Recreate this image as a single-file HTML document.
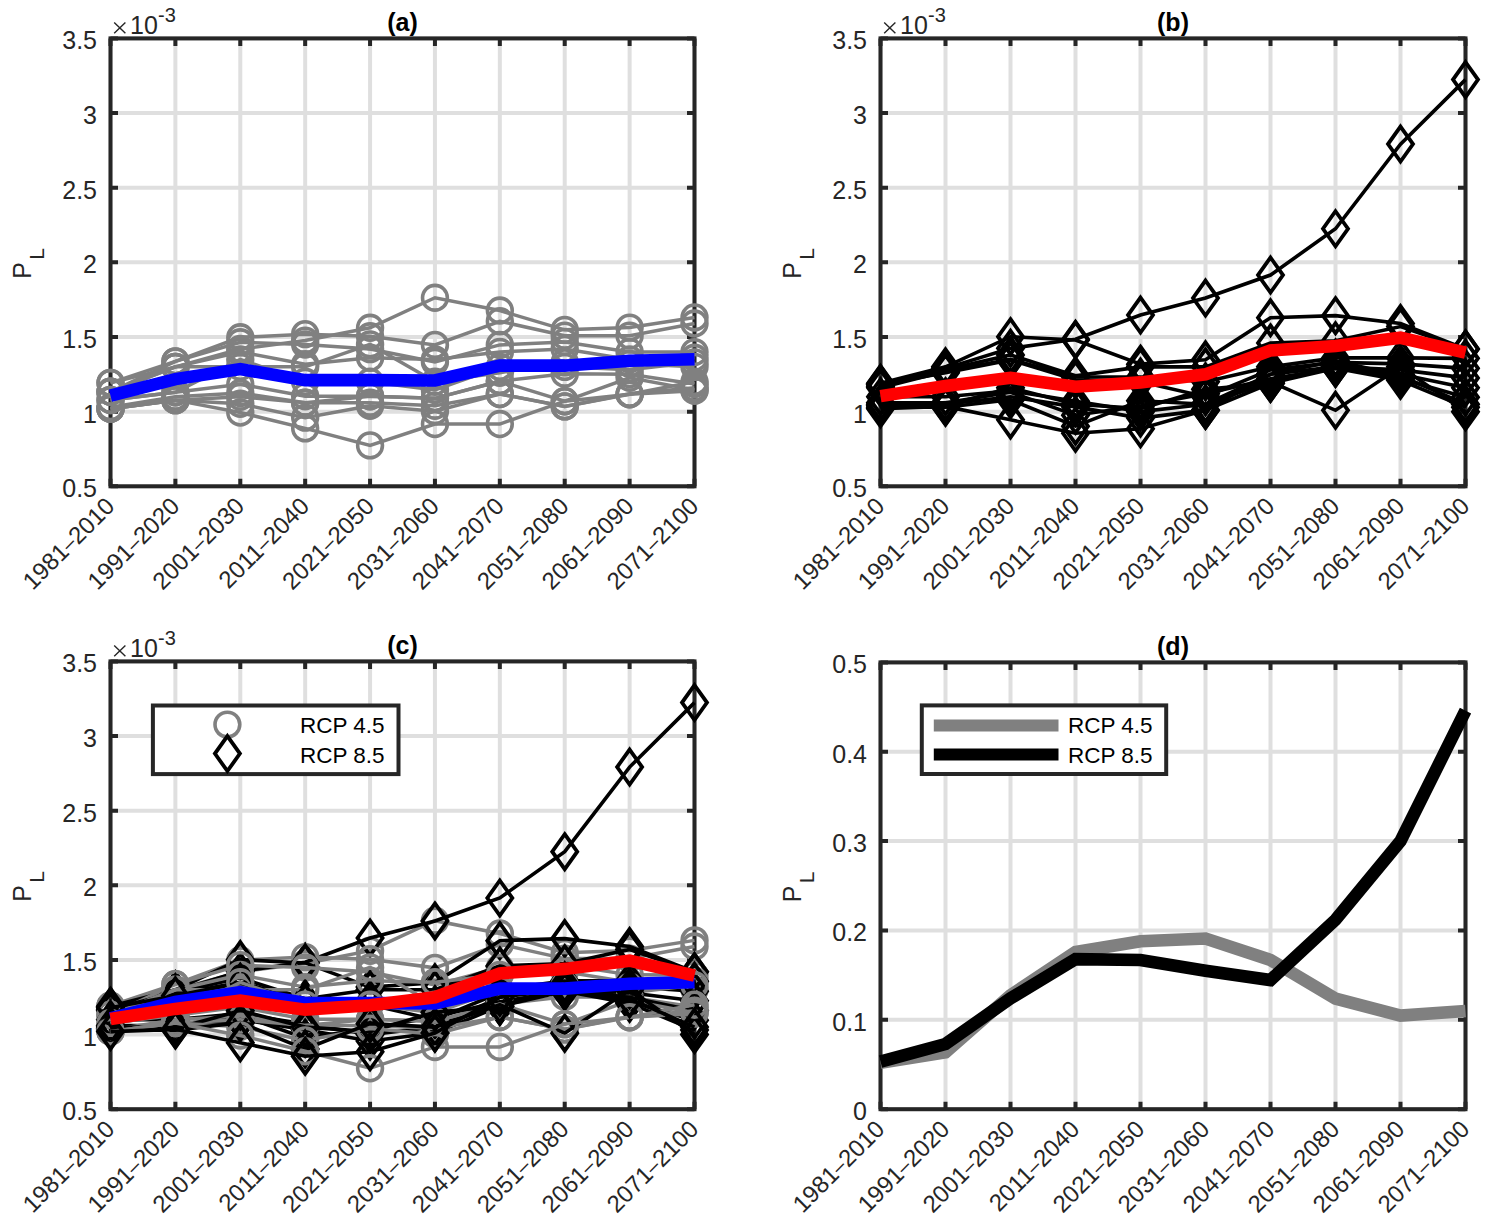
<!DOCTYPE html><html><head><meta charset="utf-8"><style>html,body{margin:0;padding:0;background:#fff;}svg{display:block;} text{font-family:"Liberation Sans", sans-serif;}</style></head><body>
<svg width="1496" height="1228" viewBox="0 0 1496 1228">
<rect width="1496" height="1228" fill="#fff"/>
<path d="M110.5 38.4V486.3M175.39 38.4V486.3M240.28 38.4V486.3M305.17 38.4V486.3M370.06 38.4V486.3M434.94 38.4V486.3M499.83 38.4V486.3M564.72 38.4V486.3M629.61 38.4V486.3M694.5 38.4V486.3M110.5 486.3H694.5M110.5 411.65H694.5M110.5 337H694.5M110.5 262.35H694.5M110.5 187.7H694.5M110.5 113.05H694.5M110.5 38.4H694.5" stroke="#262626" stroke-opacity="0.15" stroke-width="4" fill="none"/>
<path d="M110.5 38.4V45.9M110.5 486.3V478.8M175.39 38.4V45.9M175.39 486.3V478.8M240.28 38.4V45.9M240.28 486.3V478.8M305.17 38.4V45.9M305.17 486.3V478.8M370.06 38.4V45.9M370.06 486.3V478.8M434.94 38.4V45.9M434.94 486.3V478.8M499.83 38.4V45.9M499.83 486.3V478.8M564.72 38.4V45.9M564.72 486.3V478.8M629.61 38.4V45.9M629.61 486.3V478.8M694.5 38.4V45.9M694.5 486.3V478.8M110.5 486.3H118M694.5 486.3H687M110.5 411.65H118M694.5 411.65H687M110.5 337H118M694.5 337H687M110.5 262.35H118M694.5 262.35H687M110.5 187.7H118M694.5 187.7H687M110.5 113.05H118M694.5 113.05H687M110.5 38.4H118M694.5 38.4H687" stroke="#262626" stroke-width="4" fill="none"/>
<rect x="110.5" y="38.4" width="584" height="447.9" stroke="#262626" stroke-width="4" fill="none"/>
<path d="M880.5 38.4V486.3M945.5 38.4V486.3M1010.5 38.4V486.3M1075.5 38.4V486.3M1140.5 38.4V486.3M1205.5 38.4V486.3M1270.5 38.4V486.3M1335.5 38.4V486.3M1400.5 38.4V486.3M1465.5 38.4V486.3M880.5 486.3H1465.5M880.5 411.65H1465.5M880.5 337H1465.5M880.5 262.35H1465.5M880.5 187.7H1465.5M880.5 113.05H1465.5M880.5 38.4H1465.5" stroke="#262626" stroke-opacity="0.15" stroke-width="4" fill="none"/>
<path d="M880.5 38.4V45.9M880.5 486.3V478.8M945.5 38.4V45.9M945.5 486.3V478.8M1010.5 38.4V45.9M1010.5 486.3V478.8M1075.5 38.4V45.9M1075.5 486.3V478.8M1140.5 38.4V45.9M1140.5 486.3V478.8M1205.5 38.4V45.9M1205.5 486.3V478.8M1270.5 38.4V45.9M1270.5 486.3V478.8M1335.5 38.4V45.9M1335.5 486.3V478.8M1400.5 38.4V45.9M1400.5 486.3V478.8M1465.5 38.4V45.9M1465.5 486.3V478.8M880.5 486.3H888M1465.5 486.3H1458M880.5 411.65H888M1465.5 411.65H1458M880.5 337H888M1465.5 337H1458M880.5 262.35H888M1465.5 262.35H1458M880.5 187.7H888M1465.5 187.7H1458M880.5 113.05H888M1465.5 113.05H1458M880.5 38.4H888M1465.5 38.4H1458" stroke="#262626" stroke-width="4" fill="none"/>
<rect x="880.5" y="38.4" width="585" height="447.9" stroke="#262626" stroke-width="4" fill="none"/>
<path d="M110.5 661.4V1109.2M175.39 661.4V1109.2M240.28 661.4V1109.2M305.17 661.4V1109.2M370.06 661.4V1109.2M434.94 661.4V1109.2M499.83 661.4V1109.2M564.72 661.4V1109.2M629.61 661.4V1109.2M694.5 661.4V1109.2M110.5 1109.2H694.5M110.5 1034.57H694.5M110.5 959.93H694.5M110.5 885.3H694.5M110.5 810.67H694.5M110.5 736.03H694.5M110.5 661.4H694.5" stroke="#262626" stroke-opacity="0.15" stroke-width="4" fill="none"/>
<path d="M110.5 661.4V668.9M110.5 1109.2V1101.7M175.39 661.4V668.9M175.39 1109.2V1101.7M240.28 661.4V668.9M240.28 1109.2V1101.7M305.17 661.4V668.9M305.17 1109.2V1101.7M370.06 661.4V668.9M370.06 1109.2V1101.7M434.94 661.4V668.9M434.94 1109.2V1101.7M499.83 661.4V668.9M499.83 1109.2V1101.7M564.72 661.4V668.9M564.72 1109.2V1101.7M629.61 661.4V668.9M629.61 1109.2V1101.7M694.5 661.4V668.9M694.5 1109.2V1101.7M110.5 1109.2H118M694.5 1109.2H687M110.5 1034.57H118M694.5 1034.57H687M110.5 959.93H118M694.5 959.93H687M110.5 885.3H118M694.5 885.3H687M110.5 810.67H118M694.5 810.67H687M110.5 736.03H118M694.5 736.03H687M110.5 661.4H118M694.5 661.4H687" stroke="#262626" stroke-width="4" fill="none"/>
<rect x="110.5" y="661.4" width="584" height="447.8" stroke="#262626" stroke-width="4" fill="none"/>
<path d="M880.5 662.4V1109.2M945.5 662.4V1109.2M1010.5 662.4V1109.2M1075.5 662.4V1109.2M1140.5 662.4V1109.2M1205.5 662.4V1109.2M1270.5 662.4V1109.2M1335.5 662.4V1109.2M1400.5 662.4V1109.2M1465.5 662.4V1109.2M880.5 1109.2H1465.5M880.5 1019.84H1465.5M880.5 930.48H1465.5M880.5 841.12H1465.5M880.5 751.76H1465.5M880.5 662.4H1465.5" stroke="#262626" stroke-opacity="0.15" stroke-width="4" fill="none"/>
<path d="M880.5 662.4V669.9M880.5 1109.2V1101.7M945.5 662.4V669.9M945.5 1109.2V1101.7M1010.5 662.4V669.9M1010.5 1109.2V1101.7M1075.5 662.4V669.9M1075.5 1109.2V1101.7M1140.5 662.4V669.9M1140.5 1109.2V1101.7M1205.5 662.4V669.9M1205.5 1109.2V1101.7M1270.5 662.4V669.9M1270.5 1109.2V1101.7M1335.5 662.4V669.9M1335.5 1109.2V1101.7M1400.5 662.4V669.9M1400.5 1109.2V1101.7M1465.5 662.4V669.9M1465.5 1109.2V1101.7M880.5 1109.2H888M1465.5 1109.2H1458M880.5 1019.84H888M1465.5 1019.84H1458M880.5 930.48H888M1465.5 930.48H1458M880.5 841.12H888M1465.5 841.12H1458M880.5 751.76H888M1465.5 751.76H1458M880.5 662.4H888M1465.5 662.4H1458" stroke="#262626" stroke-width="4" fill="none"/>
<rect x="880.5" y="662.4" width="585" height="446.8" stroke="#262626" stroke-width="4" fill="none"/>
<polyline points="110.5,382.84 175.39,366.86 240.28,348.94 305.17,340.58 370.06,327.74 434.94,297.73 499.83,310.57 564.72,329.83 629.61,327.59 694.5,317.44" fill="none" stroke="#808080" stroke-width="3.5" stroke-linejoin="miter"/>
<circle cx="110.5" cy="382.84" r="12.4" fill="none" stroke="#808080" stroke-width="3.6"/>
<circle cx="175.39" cy="366.86" r="12.4" fill="none" stroke="#808080" stroke-width="3.6"/>
<circle cx="240.28" cy="348.94" r="12.4" fill="none" stroke="#808080" stroke-width="3.6"/>
<circle cx="305.17" cy="340.58" r="12.4" fill="none" stroke="#808080" stroke-width="3.6"/>
<circle cx="370.06" cy="327.74" r="12.4" fill="none" stroke="#808080" stroke-width="3.6"/>
<circle cx="434.94" cy="297.73" r="12.4" fill="none" stroke="#808080" stroke-width="3.6"/>
<circle cx="499.83" cy="310.57" r="12.4" fill="none" stroke="#808080" stroke-width="3.6"/>
<circle cx="564.72" cy="329.83" r="12.4" fill="none" stroke="#808080" stroke-width="3.6"/>
<circle cx="629.61" cy="327.59" r="12.4" fill="none" stroke="#808080" stroke-width="3.6"/>
<circle cx="694.5" cy="317.44" r="12.4" fill="none" stroke="#808080" stroke-width="3.6"/>
<polyline points="110.5,382.84 175.39,361.34 240.28,337.3 305.17,334.16 370.06,336.25 434.94,344.91 499.83,321.32 564.72,335.66 629.61,335.66 694.5,323.56" fill="none" stroke="#808080" stroke-width="3.5" stroke-linejoin="miter"/>
<circle cx="110.5" cy="382.84" r="12.4" fill="none" stroke="#808080" stroke-width="3.6"/>
<circle cx="175.39" cy="361.34" r="12.4" fill="none" stroke="#808080" stroke-width="3.6"/>
<circle cx="240.28" cy="337.3" r="12.4" fill="none" stroke="#808080" stroke-width="3.6"/>
<circle cx="305.17" cy="334.16" r="12.4" fill="none" stroke="#808080" stroke-width="3.6"/>
<circle cx="370.06" cy="336.25" r="12.4" fill="none" stroke="#808080" stroke-width="3.6"/>
<circle cx="434.94" cy="344.91" r="12.4" fill="none" stroke="#808080" stroke-width="3.6"/>
<circle cx="499.83" cy="321.32" r="12.4" fill="none" stroke="#808080" stroke-width="3.6"/>
<circle cx="564.72" cy="335.66" r="12.4" fill="none" stroke="#808080" stroke-width="3.6"/>
<circle cx="629.61" cy="335.66" r="12.4" fill="none" stroke="#808080" stroke-width="3.6"/>
<circle cx="694.5" cy="323.56" r="12.4" fill="none" stroke="#808080" stroke-width="3.6"/>
<polyline points="110.5,391.79 175.39,361.34 240.28,342.23 305.17,344.47 370.06,349.09 434.94,361.93 499.83,344.91 564.72,341.93 629.61,351.93 694.5,352.08" fill="none" stroke="#808080" stroke-width="3.5" stroke-linejoin="miter"/>
<circle cx="110.5" cy="391.79" r="12.4" fill="none" stroke="#808080" stroke-width="3.6"/>
<circle cx="175.39" cy="361.34" r="12.4" fill="none" stroke="#808080" stroke-width="3.6"/>
<circle cx="240.28" cy="342.23" r="12.4" fill="none" stroke="#808080" stroke-width="3.6"/>
<circle cx="305.17" cy="344.47" r="12.4" fill="none" stroke="#808080" stroke-width="3.6"/>
<circle cx="370.06" cy="349.09" r="12.4" fill="none" stroke="#808080" stroke-width="3.6"/>
<circle cx="434.94" cy="361.93" r="12.4" fill="none" stroke="#808080" stroke-width="3.6"/>
<circle cx="499.83" cy="344.91" r="12.4" fill="none" stroke="#808080" stroke-width="3.6"/>
<circle cx="564.72" cy="341.93" r="12.4" fill="none" stroke="#808080" stroke-width="3.6"/>
<circle cx="629.61" cy="351.93" r="12.4" fill="none" stroke="#808080" stroke-width="3.6"/>
<circle cx="694.5" cy="352.08" r="12.4" fill="none" stroke="#808080" stroke-width="3.6"/>
<polyline points="110.5,391.79 175.39,366.86 240.28,351.93 305.17,364.17 370.06,357.75 434.94,359.39 499.83,351.93 564.72,348.94 629.61,359.39 694.5,357.75" fill="none" stroke="#808080" stroke-width="3.5" stroke-linejoin="miter"/>
<circle cx="110.5" cy="391.79" r="12.4" fill="none" stroke="#808080" stroke-width="3.6"/>
<circle cx="175.39" cy="366.86" r="12.4" fill="none" stroke="#808080" stroke-width="3.6"/>
<circle cx="240.28" cy="351.93" r="12.4" fill="none" stroke="#808080" stroke-width="3.6"/>
<circle cx="305.17" cy="364.17" r="12.4" fill="none" stroke="#808080" stroke-width="3.6"/>
<circle cx="370.06" cy="357.75" r="12.4" fill="none" stroke="#808080" stroke-width="3.6"/>
<circle cx="434.94" cy="359.39" r="12.4" fill="none" stroke="#808080" stroke-width="3.6"/>
<circle cx="499.83" cy="351.93" r="12.4" fill="none" stroke="#808080" stroke-width="3.6"/>
<circle cx="564.72" cy="348.94" r="12.4" fill="none" stroke="#808080" stroke-width="3.6"/>
<circle cx="629.61" cy="359.39" r="12.4" fill="none" stroke="#808080" stroke-width="3.6"/>
<circle cx="694.5" cy="357.75" r="12.4" fill="none" stroke="#808080" stroke-width="3.6"/>
<polyline points="110.5,391.79 175.39,366.86 240.28,366.86 305.17,366.86 370.06,344.47 434.94,381.79 499.83,372.68 564.72,362.38 629.61,363.87 694.5,366.86" fill="none" stroke="#808080" stroke-width="3.5" stroke-linejoin="miter"/>
<circle cx="110.5" cy="391.79" r="12.4" fill="none" stroke="#808080" stroke-width="3.6"/>
<circle cx="175.39" cy="366.86" r="12.4" fill="none" stroke="#808080" stroke-width="3.6"/>
<circle cx="240.28" cy="366.86" r="12.4" fill="none" stroke="#808080" stroke-width="3.6"/>
<circle cx="305.17" cy="366.86" r="12.4" fill="none" stroke="#808080" stroke-width="3.6"/>
<circle cx="370.06" cy="344.47" r="12.4" fill="none" stroke="#808080" stroke-width="3.6"/>
<circle cx="434.94" cy="381.79" r="12.4" fill="none" stroke="#808080" stroke-width="3.6"/>
<circle cx="499.83" cy="372.68" r="12.4" fill="none" stroke="#808080" stroke-width="3.6"/>
<circle cx="564.72" cy="362.38" r="12.4" fill="none" stroke="#808080" stroke-width="3.6"/>
<circle cx="629.61" cy="363.87" r="12.4" fill="none" stroke="#808080" stroke-width="3.6"/>
<circle cx="694.5" cy="366.86" r="12.4" fill="none" stroke="#808080" stroke-width="3.6"/>
<polyline points="110.5,400 175.39,392.24 240.28,359.39 305.17,381.79 370.06,381.79 434.94,389.85 499.83,366.86 564.72,366.86 629.61,369.85 694.5,362.38" fill="none" stroke="#808080" stroke-width="3.5" stroke-linejoin="miter"/>
<circle cx="110.5" cy="400" r="12.4" fill="none" stroke="#808080" stroke-width="3.6"/>
<circle cx="175.39" cy="392.24" r="12.4" fill="none" stroke="#808080" stroke-width="3.6"/>
<circle cx="240.28" cy="359.39" r="12.4" fill="none" stroke="#808080" stroke-width="3.6"/>
<circle cx="305.17" cy="381.79" r="12.4" fill="none" stroke="#808080" stroke-width="3.6"/>
<circle cx="370.06" cy="381.79" r="12.4" fill="none" stroke="#808080" stroke-width="3.6"/>
<circle cx="434.94" cy="389.85" r="12.4" fill="none" stroke="#808080" stroke-width="3.6"/>
<circle cx="499.83" cy="366.86" r="12.4" fill="none" stroke="#808080" stroke-width="3.6"/>
<circle cx="564.72" cy="366.86" r="12.4" fill="none" stroke="#808080" stroke-width="3.6"/>
<circle cx="629.61" cy="369.85" r="12.4" fill="none" stroke="#808080" stroke-width="3.6"/>
<circle cx="694.5" cy="362.38" r="12.4" fill="none" stroke="#808080" stroke-width="3.6"/>
<polyline points="110.5,400 175.39,392.24 240.28,384.18 305.17,396.27 370.06,396.27 434.94,398.36 499.83,381.19 564.72,373.73 629.61,374.32 694.5,384.03" fill="none" stroke="#808080" stroke-width="3.5" stroke-linejoin="miter"/>
<circle cx="110.5" cy="400" r="12.4" fill="none" stroke="#808080" stroke-width="3.6"/>
<circle cx="175.39" cy="392.24" r="12.4" fill="none" stroke="#808080" stroke-width="3.6"/>
<circle cx="240.28" cy="384.18" r="12.4" fill="none" stroke="#808080" stroke-width="3.6"/>
<circle cx="305.17" cy="396.27" r="12.4" fill="none" stroke="#808080" stroke-width="3.6"/>
<circle cx="370.06" cy="396.27" r="12.4" fill="none" stroke="#808080" stroke-width="3.6"/>
<circle cx="434.94" cy="398.36" r="12.4" fill="none" stroke="#808080" stroke-width="3.6"/>
<circle cx="499.83" cy="381.19" r="12.4" fill="none" stroke="#808080" stroke-width="3.6"/>
<circle cx="564.72" cy="373.73" r="12.4" fill="none" stroke="#808080" stroke-width="3.6"/>
<circle cx="629.61" cy="374.32" r="12.4" fill="none" stroke="#808080" stroke-width="3.6"/>
<circle cx="694.5" cy="384.03" r="12.4" fill="none" stroke="#808080" stroke-width="3.6"/>
<polyline points="110.5,407.17 175.39,396.72 240.28,392.99 305.17,402.69 370.06,396.27 434.94,398.36 499.83,381.19 564.72,401.2 629.61,377.76 694.5,389.85" fill="none" stroke="#808080" stroke-width="3.5" stroke-linejoin="miter"/>
<circle cx="110.5" cy="407.17" r="12.4" fill="none" stroke="#808080" stroke-width="3.6"/>
<circle cx="175.39" cy="396.72" r="12.4" fill="none" stroke="#808080" stroke-width="3.6"/>
<circle cx="240.28" cy="392.99" r="12.4" fill="none" stroke="#808080" stroke-width="3.6"/>
<circle cx="305.17" cy="402.69" r="12.4" fill="none" stroke="#808080" stroke-width="3.6"/>
<circle cx="370.06" cy="396.27" r="12.4" fill="none" stroke="#808080" stroke-width="3.6"/>
<circle cx="434.94" cy="398.36" r="12.4" fill="none" stroke="#808080" stroke-width="3.6"/>
<circle cx="499.83" cy="381.19" r="12.4" fill="none" stroke="#808080" stroke-width="3.6"/>
<circle cx="564.72" cy="401.2" r="12.4" fill="none" stroke="#808080" stroke-width="3.6"/>
<circle cx="629.61" cy="377.76" r="12.4" fill="none" stroke="#808080" stroke-width="3.6"/>
<circle cx="694.5" cy="389.85" r="12.4" fill="none" stroke="#808080" stroke-width="3.6"/>
<polyline points="110.5,408.66 175.39,400.15 240.28,396.72 305.17,402.69 370.06,402.69 434.94,405.68 499.83,394.03 564.72,406.42 629.61,393.73 694.5,387.76" fill="none" stroke="#808080" stroke-width="3.5" stroke-linejoin="miter"/>
<circle cx="110.5" cy="408.66" r="12.4" fill="none" stroke="#808080" stroke-width="3.6"/>
<circle cx="175.39" cy="400.15" r="12.4" fill="none" stroke="#808080" stroke-width="3.6"/>
<circle cx="240.28" cy="396.72" r="12.4" fill="none" stroke="#808080" stroke-width="3.6"/>
<circle cx="305.17" cy="402.69" r="12.4" fill="none" stroke="#808080" stroke-width="3.6"/>
<circle cx="370.06" cy="402.69" r="12.4" fill="none" stroke="#808080" stroke-width="3.6"/>
<circle cx="434.94" cy="405.68" r="12.4" fill="none" stroke="#808080" stroke-width="3.6"/>
<circle cx="499.83" cy="394.03" r="12.4" fill="none" stroke="#808080" stroke-width="3.6"/>
<circle cx="564.72" cy="406.42" r="12.4" fill="none" stroke="#808080" stroke-width="3.6"/>
<circle cx="629.61" cy="393.73" r="12.4" fill="none" stroke="#808080" stroke-width="3.6"/>
<circle cx="694.5" cy="387.76" r="12.4" fill="none" stroke="#808080" stroke-width="3.6"/>
<polyline points="110.5,408.66 175.39,400.15 240.28,403.74 305.17,417.62 370.06,405.68 434.94,411.2 499.83,394.03 564.72,406.42 629.61,394.33 694.5,390.75" fill="none" stroke="#808080" stroke-width="3.5" stroke-linejoin="miter"/>
<circle cx="110.5" cy="408.66" r="12.4" fill="none" stroke="#808080" stroke-width="3.6"/>
<circle cx="175.39" cy="400.15" r="12.4" fill="none" stroke="#808080" stroke-width="3.6"/>
<circle cx="240.28" cy="403.74" r="12.4" fill="none" stroke="#808080" stroke-width="3.6"/>
<circle cx="305.17" cy="417.62" r="12.4" fill="none" stroke="#808080" stroke-width="3.6"/>
<circle cx="370.06" cy="405.68" r="12.4" fill="none" stroke="#808080" stroke-width="3.6"/>
<circle cx="434.94" cy="411.2" r="12.4" fill="none" stroke="#808080" stroke-width="3.6"/>
<circle cx="499.83" cy="394.03" r="12.4" fill="none" stroke="#808080" stroke-width="3.6"/>
<circle cx="564.72" cy="406.42" r="12.4" fill="none" stroke="#808080" stroke-width="3.6"/>
<circle cx="629.61" cy="394.33" r="12.4" fill="none" stroke="#808080" stroke-width="3.6"/>
<circle cx="694.5" cy="390.75" r="12.4" fill="none" stroke="#808080" stroke-width="3.6"/>
<polyline points="110.5,408.66 175.39,400.15 240.28,412.55 305.17,428.37 370.06,445.39 434.94,424.04 499.83,424.04 564.72,401.2 629.61,394.33 694.5,381.79" fill="none" stroke="#808080" stroke-width="3.5" stroke-linejoin="miter"/>
<circle cx="110.5" cy="408.66" r="12.4" fill="none" stroke="#808080" stroke-width="3.6"/>
<circle cx="175.39" cy="400.15" r="12.4" fill="none" stroke="#808080" stroke-width="3.6"/>
<circle cx="240.28" cy="412.55" r="12.4" fill="none" stroke="#808080" stroke-width="3.6"/>
<circle cx="305.17" cy="428.37" r="12.4" fill="none" stroke="#808080" stroke-width="3.6"/>
<circle cx="370.06" cy="445.39" r="12.4" fill="none" stroke="#808080" stroke-width="3.6"/>
<circle cx="434.94" cy="424.04" r="12.4" fill="none" stroke="#808080" stroke-width="3.6"/>
<circle cx="499.83" cy="424.04" r="12.4" fill="none" stroke="#808080" stroke-width="3.6"/>
<circle cx="564.72" cy="401.2" r="12.4" fill="none" stroke="#808080" stroke-width="3.6"/>
<circle cx="629.61" cy="394.33" r="12.4" fill="none" stroke="#808080" stroke-width="3.6"/>
<circle cx="694.5" cy="381.79" r="12.4" fill="none" stroke="#808080" stroke-width="3.6"/>
<polyline points="110.5,395.53 175.39,379.1 240.28,369.1 305.17,380.15 370.06,380.15 434.94,380.45 499.83,365.67 564.72,365.67 629.61,360.74 694.5,359.25" fill="none" stroke="#0000ff" stroke-width="12.6" stroke-linejoin="miter"/>
<polyline points="880.5,384.03 945.5,368.35 1010.5,348.35 1075.5,339.24 1140.5,315.05 1205.5,298.03 1270.5,275.04 1335.5,228.76 1400.5,144.1 1465.5,79.61" fill="none" stroke="#000" stroke-width="3.6" stroke-linejoin="miter"/>
<path d="M880.5 366.53L893 384.03L880.5 401.53L868 384.03ZM945.5 350.85L958 368.35L945.5 385.85L933 368.35ZM1010.5 330.85L1023 348.35L1010.5 365.85L998 348.35ZM1075.5 321.74L1088 339.24L1075.5 356.74L1063 339.24ZM1140.5 297.55L1153 315.05L1140.5 332.55L1128 315.05ZM1205.5 280.53L1218 298.03L1205.5 315.53L1193 298.03ZM1270.5 257.54L1283 275.04L1270.5 292.54L1258 275.04ZM1335.5 211.26L1348 228.76L1335.5 246.26L1323 228.76ZM1400.5 126.6L1413 144.1L1400.5 161.6L1388 144.1ZM1465.5 62.11L1478 79.61L1465.5 97.11L1453 79.61Z" fill="none" stroke="#000" stroke-width="3.8" stroke-linejoin="miter"/>
<polyline points="880.5,383.28 945.5,366.86 1010.5,336.7 1075.5,339.99 1140.5,364.17 1205.5,359.84 1270.5,317.74 1335.5,315.65 1400.5,323.56 1465.5,348.94" fill="none" stroke="#000" stroke-width="3.6" stroke-linejoin="miter"/>
<path d="M880.5 365.78L893 383.28L880.5 400.78L868 383.28ZM945.5 349.36L958 366.86L945.5 384.36L933 366.86ZM1010.5 319.2L1023 336.7L1010.5 354.2L998 336.7ZM1075.5 322.49L1088 339.99L1075.5 357.49L1063 339.99ZM1140.5 346.67L1153 364.17L1140.5 381.67L1128 364.17ZM1205.5 342.34L1218 359.84L1205.5 377.34L1193 359.84ZM1270.5 300.24L1283 317.74L1270.5 335.24L1258 317.74ZM1335.5 298.15L1348 315.65L1335.5 333.15L1323 315.65ZM1400.5 306.06L1413 323.56L1400.5 341.06L1388 323.56ZM1465.5 331.44L1478 348.94L1465.5 366.44L1453 348.94Z" fill="none" stroke="#000" stroke-width="3.8" stroke-linejoin="miter"/>
<polyline points="880.5,386.27 945.5,369.85 1010.5,354.92 1075.5,375.82 1140.5,366.86 1205.5,366.86 1270.5,342.97 1335.5,340.73 1400.5,326.55 1465.5,348.94" fill="none" stroke="#000" stroke-width="3.6" stroke-linejoin="miter"/>
<path d="M880.5 368.77L893 386.27L880.5 403.77L868 386.27ZM945.5 352.35L958 369.85L945.5 387.35L933 369.85ZM1010.5 337.42L1023 354.92L1010.5 372.42L998 354.92ZM1075.5 358.32L1088 375.82L1075.5 393.32L1063 375.82ZM1140.5 349.36L1153 366.86L1140.5 384.36L1128 366.86ZM1205.5 349.36L1218 366.86L1205.5 384.36L1193 366.86ZM1270.5 325.47L1283 342.97L1270.5 360.47L1258 342.97ZM1335.5 323.23L1348 340.73L1335.5 358.23L1323 340.73ZM1400.5 309.05L1413 326.55L1400.5 344.05L1388 326.55ZM1465.5 331.44L1478 348.94L1465.5 366.44L1453 348.94Z" fill="none" stroke="#000" stroke-width="3.8" stroke-linejoin="miter"/>
<polyline points="880.5,387.76 945.5,371.34 1010.5,359.39 1075.5,377.01 1140.5,377.01 1205.5,381.79 1270.5,366.86 1335.5,357.9 1400.5,357.9 1465.5,358.35" fill="none" stroke="#000" stroke-width="3.6" stroke-linejoin="miter"/>
<path d="M880.5 370.26L893 387.76L880.5 405.26L868 387.76ZM945.5 353.84L958 371.34L945.5 388.84L933 371.34ZM1010.5 341.89L1023 359.39L1010.5 376.89L998 359.39ZM1075.5 359.51L1088 377.01L1075.5 394.51L1063 377.01ZM1140.5 359.51L1153 377.01L1140.5 394.51L1128 377.01ZM1205.5 364.29L1218 381.79L1205.5 399.29L1193 381.79ZM1270.5 349.36L1283 366.86L1270.5 384.36L1258 366.86ZM1335.5 340.4L1348 357.9L1335.5 375.4L1323 357.9ZM1400.5 340.4L1413 357.9L1400.5 375.4L1388 357.9ZM1465.5 340.85L1478 358.35L1465.5 375.85L1453 358.35Z" fill="none" stroke="#000" stroke-width="3.8" stroke-linejoin="miter"/>
<polyline points="880.5,384.78 945.5,372.83 1010.5,359.99 1075.5,379.7 1140.5,381.79 1205.5,396.72 1270.5,369.85 1335.5,362.38 1400.5,363.87 1465.5,368.35" fill="none" stroke="#000" stroke-width="3.6" stroke-linejoin="miter"/>
<path d="M880.5 367.28L893 384.78L880.5 402.28L868 384.78ZM945.5 355.33L958 372.83L945.5 390.33L933 372.83ZM1010.5 342.49L1023 359.99L1010.5 377.49L998 359.99ZM1075.5 362.2L1088 379.7L1075.5 397.2L1063 379.7ZM1140.5 364.29L1153 381.79L1140.5 399.29L1128 381.79ZM1205.5 379.22L1218 396.72L1205.5 414.22L1193 396.72ZM1270.5 352.35L1283 369.85L1270.5 387.35L1258 369.85ZM1335.5 344.88L1348 362.38L1335.5 379.88L1323 362.38ZM1400.5 346.37L1413 363.87L1400.5 381.37L1388 363.87ZM1465.5 350.85L1478 368.35L1465.5 385.85L1453 368.35Z" fill="none" stroke="#000" stroke-width="3.8" stroke-linejoin="miter"/>
<polyline points="880.5,396.72 945.5,396.72 1010.5,390.75 1075.5,401.2 1140.5,411.65 1205.5,404.19 1270.5,374.32 1335.5,366.86 1400.5,369.85 1465.5,377.91" fill="none" stroke="#000" stroke-width="3.6" stroke-linejoin="miter"/>
<path d="M880.5 379.22L893 396.72L880.5 414.22L868 396.72ZM945.5 379.22L958 396.72L945.5 414.22L933 396.72ZM1010.5 373.25L1023 390.75L1010.5 408.25L998 390.75ZM1075.5 383.7L1088 401.2L1075.5 418.7L1063 401.2ZM1140.5 394.15L1153 411.65L1140.5 429.15L1128 411.65ZM1205.5 386.69L1218 404.19L1205.5 421.69L1193 404.19ZM1270.5 356.82L1283 374.32L1270.5 391.82L1258 374.32ZM1335.5 349.36L1348 366.86L1335.5 384.36L1323 366.86ZM1400.5 352.35L1413 369.85L1400.5 387.35L1388 369.85ZM1465.5 360.41L1478 377.91L1465.5 395.41L1453 377.91Z" fill="none" stroke="#000" stroke-width="3.8" stroke-linejoin="miter"/>
<polyline points="880.5,402.69 945.5,402.69 1010.5,392.24 1075.5,415.23 1140.5,405.68 1205.5,393.73 1270.5,378.8 1335.5,368.35 1400.5,374.32 1465.5,387.76" fill="none" stroke="#000" stroke-width="3.6" stroke-linejoin="miter"/>
<path d="M880.5 385.19L893 402.69L880.5 420.19L868 402.69ZM945.5 385.19L958 402.69L945.5 420.19L933 402.69ZM1010.5 374.74L1023 392.24L1010.5 409.74L998 392.24ZM1075.5 397.73L1088 415.23L1075.5 432.73L1063 415.23ZM1140.5 388.18L1153 405.68L1140.5 423.18L1128 405.68ZM1205.5 376.23L1218 393.73L1205.5 411.23L1193 393.73ZM1270.5 361.3L1283 378.8L1270.5 396.3L1258 378.8ZM1335.5 350.85L1348 368.35L1335.5 385.85L1323 368.35ZM1400.5 356.82L1413 374.32L1400.5 391.82L1388 374.32ZM1465.5 370.26L1478 387.76L1465.5 405.26L1453 387.76Z" fill="none" stroke="#000" stroke-width="3.8" stroke-linejoin="miter"/>
<polyline points="880.5,404.19 945.5,404.19 1010.5,396.72 1075.5,406.87 1140.5,418.07 1205.5,410.16 1270.5,383.28 1335.5,363.87 1400.5,378.8 1465.5,397.32" fill="none" stroke="#000" stroke-width="3.6" stroke-linejoin="miter"/>
<path d="M880.5 386.69L893 404.19L880.5 421.69L868 404.19ZM945.5 386.69L958 404.19L945.5 421.69L933 404.19ZM1010.5 379.22L1023 396.72L1010.5 414.22L998 396.72ZM1075.5 389.37L1088 406.87L1075.5 424.37L1063 406.87ZM1140.5 400.57L1153 418.07L1140.5 435.57L1128 418.07ZM1205.5 392.66L1218 410.16L1205.5 427.66L1193 410.16ZM1270.5 365.78L1283 383.28L1270.5 400.78L1258 383.28ZM1335.5 346.37L1348 363.87L1335.5 381.37L1323 363.87ZM1400.5 361.3L1413 378.8L1400.5 396.3L1388 378.8ZM1465.5 379.82L1478 397.32L1465.5 414.82L1453 397.32Z" fill="none" stroke="#000" stroke-width="3.8" stroke-linejoin="miter"/>
<polyline points="880.5,405.68 945.5,405.68 1010.5,387.76 1075.5,404.19 1140.5,408.66 1205.5,389.25 1270.5,383.28 1335.5,368.35 1400.5,380.3 1465.5,407.17" fill="none" stroke="#000" stroke-width="3.6" stroke-linejoin="miter"/>
<path d="M880.5 388.18L893 405.68L880.5 423.18L868 405.68ZM945.5 388.18L958 405.68L945.5 423.18L933 405.68ZM1010.5 370.26L1023 387.76L1010.5 405.26L998 387.76ZM1075.5 386.69L1088 404.19L1075.5 421.69L1063 404.19ZM1140.5 391.16L1153 408.66L1140.5 426.16L1128 408.66ZM1205.5 371.75L1218 389.25L1205.5 406.75L1193 389.25ZM1270.5 365.78L1283 383.28L1270.5 400.78L1258 383.28ZM1335.5 350.85L1348 368.35L1335.5 385.85L1323 368.35ZM1400.5 362.8L1413 380.3L1400.5 397.8L1388 380.3ZM1465.5 389.67L1478 407.17L1465.5 424.67L1453 407.17Z" fill="none" stroke="#000" stroke-width="3.8" stroke-linejoin="miter"/>
<polyline points="880.5,407.17 945.5,407.17 1010.5,399.71 1075.5,426.13 1140.5,400.75 1205.5,404.19 1270.5,381.79 1335.5,410.31 1400.5,366.86 1465.5,411.65" fill="none" stroke="#000" stroke-width="3.6" stroke-linejoin="miter"/>
<path d="M880.5 389.67L893 407.17L880.5 424.67L868 407.17ZM945.5 389.67L958 407.17L945.5 424.67L933 407.17ZM1010.5 382.21L1023 399.71L1010.5 417.21L998 399.71ZM1075.5 408.63L1088 426.13L1075.5 443.63L1063 426.13ZM1140.5 383.25L1153 400.75L1140.5 418.25L1128 400.75ZM1205.5 386.69L1218 404.19L1205.5 421.69L1193 404.19ZM1270.5 364.29L1283 381.79L1270.5 399.29L1258 381.79ZM1335.5 392.81L1348 410.31L1335.5 427.81L1323 410.31ZM1400.5 349.36L1413 366.86L1400.5 384.36L1388 366.86ZM1465.5 394.15L1478 411.65L1465.5 429.15L1453 411.65Z" fill="none" stroke="#000" stroke-width="3.8" stroke-linejoin="miter"/>
<polyline points="880.5,408.66 945.5,406.42 1010.5,419.86 1075.5,433.3 1140.5,428.82 1205.5,410.16 1270.5,374.32 1335.5,360.89 1400.5,375.82 1465.5,404.19" fill="none" stroke="#000" stroke-width="3.6" stroke-linejoin="miter"/>
<path d="M880.5 391.16L893 408.66L880.5 426.16L868 408.66ZM945.5 388.92L958 406.42L945.5 423.92L933 406.42ZM1010.5 402.36L1023 419.86L1010.5 437.36L998 419.86ZM1075.5 415.8L1088 433.3L1075.5 450.8L1063 433.3ZM1140.5 411.32L1153 428.82L1140.5 446.32L1128 428.82ZM1205.5 392.66L1218 410.16L1205.5 427.66L1193 410.16ZM1270.5 356.82L1283 374.32L1270.5 391.82L1258 374.32ZM1335.5 343.39L1348 360.89L1335.5 378.39L1323 360.89ZM1400.5 358.32L1413 375.82L1400.5 393.32L1388 375.82ZM1465.5 386.69L1478 404.19L1465.5 421.69L1453 404.19Z" fill="none" stroke="#000" stroke-width="3.8" stroke-linejoin="miter"/>
<polyline points="880.5,396.12 945.5,385.97 1010.5,377.76 1075.5,386.72 1140.5,382.39 1205.5,374.32 1270.5,350.44 1335.5,345.96 1400.5,337.75 1465.5,352.68" fill="none" stroke="#ff0000" stroke-width="12.6" stroke-linejoin="miter"/>
<polyline points="110.5,1005.76 175.39,989.79 240.28,971.87 305.17,963.52 370.06,950.68 434.94,920.68 499.83,933.51 564.72,952.77 629.61,950.53 694.5,940.38" fill="none" stroke="#808080" stroke-width="3.5" stroke-linejoin="miter"/>
<circle cx="110.5" cy="1005.76" r="12.4" fill="none" stroke="#808080" stroke-width="3.6"/>
<circle cx="175.39" cy="989.79" r="12.4" fill="none" stroke="#808080" stroke-width="3.6"/>
<circle cx="240.28" cy="971.87" r="12.4" fill="none" stroke="#808080" stroke-width="3.6"/>
<circle cx="305.17" cy="963.52" r="12.4" fill="none" stroke="#808080" stroke-width="3.6"/>
<circle cx="370.06" cy="950.68" r="12.4" fill="none" stroke="#808080" stroke-width="3.6"/>
<circle cx="434.94" cy="920.68" r="12.4" fill="none" stroke="#808080" stroke-width="3.6"/>
<circle cx="499.83" cy="933.51" r="12.4" fill="none" stroke="#808080" stroke-width="3.6"/>
<circle cx="564.72" cy="952.77" r="12.4" fill="none" stroke="#808080" stroke-width="3.6"/>
<circle cx="629.61" cy="950.53" r="12.4" fill="none" stroke="#808080" stroke-width="3.6"/>
<circle cx="694.5" cy="940.38" r="12.4" fill="none" stroke="#808080" stroke-width="3.6"/>
<polyline points="110.5,1006.95 175.39,991.28 240.28,971.28 305.17,962.17 370.06,937.99 434.94,920.97 499.83,897.99 564.72,851.71 629.61,767.08 694.5,702.6" fill="none" stroke="#000" stroke-width="3.6" stroke-linejoin="miter"/>
<path d="M110.5 989.45L123 1006.95L110.5 1024.45L98 1006.95ZM175.39 973.78L187.89 991.28L175.39 1008.78L162.89 991.28ZM240.28 953.78L252.78 971.28L240.28 988.78L227.78 971.28ZM305.17 944.67L317.67 962.17L305.17 979.67L292.67 962.17ZM370.06 920.49L382.56 937.99L370.06 955.49L357.56 937.99ZM434.94 903.47L447.44 920.97L434.94 938.47L422.44 920.97ZM499.83 880.49L512.33 897.99L499.83 915.49L487.33 897.99ZM564.72 834.21L577.22 851.71L564.72 869.21L552.22 851.71ZM629.61 749.58L642.11 767.08L629.61 784.58L617.11 767.08ZM694.5 685.1L707 702.6L694.5 720.1L682 702.6Z" fill="none" stroke="#000" stroke-width="3.8" stroke-linejoin="miter"/>
<polyline points="110.5,1005.76 175.39,984.26 240.28,960.23 305.17,957.1 370.06,959.19 434.94,967.84 499.83,944.26 564.72,958.59 629.61,958.59 694.5,946.5" fill="none" stroke="#808080" stroke-width="3.5" stroke-linejoin="miter"/>
<circle cx="110.5" cy="1005.76" r="12.4" fill="none" stroke="#808080" stroke-width="3.6"/>
<circle cx="175.39" cy="984.26" r="12.4" fill="none" stroke="#808080" stroke-width="3.6"/>
<circle cx="240.28" cy="960.23" r="12.4" fill="none" stroke="#808080" stroke-width="3.6"/>
<circle cx="305.17" cy="957.1" r="12.4" fill="none" stroke="#808080" stroke-width="3.6"/>
<circle cx="370.06" cy="959.19" r="12.4" fill="none" stroke="#808080" stroke-width="3.6"/>
<circle cx="434.94" cy="967.84" r="12.4" fill="none" stroke="#808080" stroke-width="3.6"/>
<circle cx="499.83" cy="944.26" r="12.4" fill="none" stroke="#808080" stroke-width="3.6"/>
<circle cx="564.72" cy="958.59" r="12.4" fill="none" stroke="#808080" stroke-width="3.6"/>
<circle cx="629.61" cy="958.59" r="12.4" fill="none" stroke="#808080" stroke-width="3.6"/>
<circle cx="694.5" cy="946.5" r="12.4" fill="none" stroke="#808080" stroke-width="3.6"/>
<polyline points="110.5,1006.21 175.39,989.79 240.28,959.63 305.17,962.92 370.06,987.1 434.94,982.77 499.83,940.68 564.72,938.59 629.61,946.5 694.5,971.87" fill="none" stroke="#000" stroke-width="3.6" stroke-linejoin="miter"/>
<path d="M110.5 988.71L123 1006.21L110.5 1023.71L98 1006.21ZM175.39 972.29L187.89 989.79L175.39 1007.29L162.89 989.79ZM240.28 942.13L252.78 959.63L240.28 977.13L227.78 959.63ZM305.17 945.42L317.67 962.92L305.17 980.42L292.67 962.92ZM370.06 969.6L382.56 987.1L370.06 1004.6L357.56 987.1ZM434.94 965.27L447.44 982.77L434.94 1000.27L422.44 982.77ZM499.83 923.18L512.33 940.68L499.83 958.18L487.33 940.68ZM564.72 921.09L577.22 938.59L564.72 956.09L552.22 938.59ZM629.61 929L642.11 946.5L629.61 964L617.11 946.5ZM694.5 954.37L707 971.87L694.5 989.37L682 971.87Z" fill="none" stroke="#000" stroke-width="3.8" stroke-linejoin="miter"/>
<polyline points="110.5,1014.71 175.39,984.26 240.28,965.16 305.17,967.4 370.06,972.02 434.94,984.86 499.83,967.84 564.72,964.86 629.61,974.86 694.5,975.01" fill="none" stroke="#808080" stroke-width="3.5" stroke-linejoin="miter"/>
<circle cx="110.5" cy="1014.71" r="12.4" fill="none" stroke="#808080" stroke-width="3.6"/>
<circle cx="175.39" cy="984.26" r="12.4" fill="none" stroke="#808080" stroke-width="3.6"/>
<circle cx="240.28" cy="965.16" r="12.4" fill="none" stroke="#808080" stroke-width="3.6"/>
<circle cx="305.17" cy="967.4" r="12.4" fill="none" stroke="#808080" stroke-width="3.6"/>
<circle cx="370.06" cy="972.02" r="12.4" fill="none" stroke="#808080" stroke-width="3.6"/>
<circle cx="434.94" cy="984.86" r="12.4" fill="none" stroke="#808080" stroke-width="3.6"/>
<circle cx="499.83" cy="967.84" r="12.4" fill="none" stroke="#808080" stroke-width="3.6"/>
<circle cx="564.72" cy="964.86" r="12.4" fill="none" stroke="#808080" stroke-width="3.6"/>
<circle cx="629.61" cy="974.86" r="12.4" fill="none" stroke="#808080" stroke-width="3.6"/>
<circle cx="694.5" cy="975.01" r="12.4" fill="none" stroke="#808080" stroke-width="3.6"/>
<polyline points="110.5,1009.19 175.39,992.77 240.28,977.85 305.17,998.74 370.06,989.79 434.94,989.79 499.83,965.9 564.72,963.66 629.61,949.48 694.5,971.87" fill="none" stroke="#000" stroke-width="3.6" stroke-linejoin="miter"/>
<path d="M110.5 991.69L123 1009.19L110.5 1026.69L98 1009.19ZM175.39 975.27L187.89 992.77L175.39 1010.27L162.89 992.77ZM240.28 960.35L252.78 977.85L240.28 995.35L227.78 977.85ZM305.17 981.24L317.67 998.74L305.17 1016.24L292.67 998.74ZM370.06 972.29L382.56 989.79L370.06 1007.29L357.56 989.79ZM434.94 972.29L447.44 989.79L434.94 1007.29L422.44 989.79ZM499.83 948.4L512.33 965.9L499.83 983.4L487.33 965.9ZM564.72 946.16L577.22 963.66L564.72 981.16L552.22 963.66ZM629.61 931.98L642.11 949.48L629.61 966.98L617.11 949.48ZM694.5 954.37L707 971.87L694.5 989.37L682 971.87Z" fill="none" stroke="#000" stroke-width="3.8" stroke-linejoin="miter"/>
<polyline points="110.5,1014.71 175.39,989.79 240.28,974.86 305.17,987.1 370.06,980.68 434.94,982.32 499.83,974.86 564.72,971.87 629.61,982.32 694.5,980.68" fill="none" stroke="#808080" stroke-width="3.5" stroke-linejoin="miter"/>
<circle cx="110.5" cy="1014.71" r="12.4" fill="none" stroke="#808080" stroke-width="3.6"/>
<circle cx="175.39" cy="989.79" r="12.4" fill="none" stroke="#808080" stroke-width="3.6"/>
<circle cx="240.28" cy="974.86" r="12.4" fill="none" stroke="#808080" stroke-width="3.6"/>
<circle cx="305.17" cy="987.1" r="12.4" fill="none" stroke="#808080" stroke-width="3.6"/>
<circle cx="370.06" cy="980.68" r="12.4" fill="none" stroke="#808080" stroke-width="3.6"/>
<circle cx="434.94" cy="982.32" r="12.4" fill="none" stroke="#808080" stroke-width="3.6"/>
<circle cx="499.83" cy="974.86" r="12.4" fill="none" stroke="#808080" stroke-width="3.6"/>
<circle cx="564.72" cy="971.87" r="12.4" fill="none" stroke="#808080" stroke-width="3.6"/>
<circle cx="629.61" cy="982.32" r="12.4" fill="none" stroke="#808080" stroke-width="3.6"/>
<circle cx="694.5" cy="980.68" r="12.4" fill="none" stroke="#808080" stroke-width="3.6"/>
<polyline points="110.5,1010.68 175.39,994.26 240.28,982.32 305.17,999.94 370.06,999.94 434.94,1004.71 499.83,989.79 564.72,980.83 629.61,980.83 694.5,981.28" fill="none" stroke="#000" stroke-width="3.6" stroke-linejoin="miter"/>
<path d="M110.5 993.18L123 1010.68L110.5 1028.18L98 1010.68ZM175.39 976.76L187.89 994.26L175.39 1011.76L162.89 994.26ZM240.28 964.82L252.78 982.32L240.28 999.82L227.78 982.32ZM305.17 982.44L317.67 999.94L305.17 1017.44L292.67 999.94ZM370.06 982.44L382.56 999.94L370.06 1017.44L357.56 999.94ZM434.94 987.21L447.44 1004.71L434.94 1022.21L422.44 1004.71ZM499.83 972.29L512.33 989.79L499.83 1007.29L487.33 989.79ZM564.72 963.33L577.22 980.83L564.72 998.33L552.22 980.83ZM629.61 963.33L642.11 980.83L629.61 998.33L617.11 980.83ZM694.5 963.78L707 981.28L694.5 998.78L682 981.28Z" fill="none" stroke="#000" stroke-width="3.8" stroke-linejoin="miter"/>
<polyline points="110.5,1014.71 175.39,989.79 240.28,989.79 305.17,989.79 370.06,967.4 434.94,1004.71 499.83,995.61 564.72,985.31 629.61,986.8 694.5,989.79" fill="none" stroke="#808080" stroke-width="3.5" stroke-linejoin="miter"/>
<circle cx="110.5" cy="1014.71" r="12.4" fill="none" stroke="#808080" stroke-width="3.6"/>
<circle cx="175.39" cy="989.79" r="12.4" fill="none" stroke="#808080" stroke-width="3.6"/>
<circle cx="240.28" cy="989.79" r="12.4" fill="none" stroke="#808080" stroke-width="3.6"/>
<circle cx="305.17" cy="989.79" r="12.4" fill="none" stroke="#808080" stroke-width="3.6"/>
<circle cx="370.06" cy="967.4" r="12.4" fill="none" stroke="#808080" stroke-width="3.6"/>
<circle cx="434.94" cy="1004.71" r="12.4" fill="none" stroke="#808080" stroke-width="3.6"/>
<circle cx="499.83" cy="995.61" r="12.4" fill="none" stroke="#808080" stroke-width="3.6"/>
<circle cx="564.72" cy="985.31" r="12.4" fill="none" stroke="#808080" stroke-width="3.6"/>
<circle cx="629.61" cy="986.8" r="12.4" fill="none" stroke="#808080" stroke-width="3.6"/>
<circle cx="694.5" cy="989.79" r="12.4" fill="none" stroke="#808080" stroke-width="3.6"/>
<polyline points="110.5,1007.7 175.39,995.76 240.28,982.92 305.17,1002.62 370.06,1004.71 434.94,1019.64 499.83,992.77 564.72,985.31 629.61,986.8 694.5,991.28" fill="none" stroke="#000" stroke-width="3.6" stroke-linejoin="miter"/>
<path d="M110.5 990.2L123 1007.7L110.5 1025.2L98 1007.7ZM175.39 978.26L187.89 995.76L175.39 1013.26L162.89 995.76ZM240.28 965.42L252.78 982.92L240.28 1000.42L227.78 982.92ZM305.17 985.12L317.67 1002.62L305.17 1020.12L292.67 1002.62ZM370.06 987.21L382.56 1004.71L370.06 1022.21L357.56 1004.71ZM434.94 1002.14L447.44 1019.64L434.94 1037.14L422.44 1019.64ZM499.83 975.27L512.33 992.77L499.83 1010.27L487.33 992.77ZM564.72 967.81L577.22 985.31L564.72 1002.81L552.22 985.31ZM629.61 969.3L642.11 986.8L629.61 1004.3L617.11 986.8ZM694.5 973.78L707 991.28L694.5 1008.78L682 991.28Z" fill="none" stroke="#000" stroke-width="3.8" stroke-linejoin="miter"/>
<polyline points="110.5,1022.92 175.39,1015.16 240.28,982.32 305.17,1004.71 370.06,1004.71 434.94,1012.77 499.83,989.79 564.72,989.79 629.61,992.77 694.5,985.31" fill="none" stroke="#808080" stroke-width="3.5" stroke-linejoin="miter"/>
<circle cx="110.5" cy="1022.92" r="12.4" fill="none" stroke="#808080" stroke-width="3.6"/>
<circle cx="175.39" cy="1015.16" r="12.4" fill="none" stroke="#808080" stroke-width="3.6"/>
<circle cx="240.28" cy="982.32" r="12.4" fill="none" stroke="#808080" stroke-width="3.6"/>
<circle cx="305.17" cy="1004.71" r="12.4" fill="none" stroke="#808080" stroke-width="3.6"/>
<circle cx="370.06" cy="1004.71" r="12.4" fill="none" stroke="#808080" stroke-width="3.6"/>
<circle cx="434.94" cy="1012.77" r="12.4" fill="none" stroke="#808080" stroke-width="3.6"/>
<circle cx="499.83" cy="989.79" r="12.4" fill="none" stroke="#808080" stroke-width="3.6"/>
<circle cx="564.72" cy="989.79" r="12.4" fill="none" stroke="#808080" stroke-width="3.6"/>
<circle cx="629.61" cy="992.77" r="12.4" fill="none" stroke="#808080" stroke-width="3.6"/>
<circle cx="694.5" cy="985.31" r="12.4" fill="none" stroke="#808080" stroke-width="3.6"/>
<polyline points="110.5,1019.64 175.39,1019.64 240.28,1013.67 305.17,1024.12 370.06,1034.57 434.94,1027.1 499.83,997.25 564.72,989.79 629.61,992.77 694.5,1000.83" fill="none" stroke="#000" stroke-width="3.6" stroke-linejoin="miter"/>
<path d="M110.5 1002.14L123 1019.64L110.5 1037.14L98 1019.64ZM175.39 1002.14L187.89 1019.64L175.39 1037.14L162.89 1019.64ZM240.28 996.17L252.78 1013.67L240.28 1031.17L227.78 1013.67ZM305.17 1006.62L317.67 1024.12L305.17 1041.62L292.67 1024.12ZM370.06 1017.07L382.56 1034.57L370.06 1052.07L357.56 1034.57ZM434.94 1009.6L447.44 1027.1L434.94 1044.6L422.44 1027.1ZM499.83 979.75L512.33 997.25L499.83 1014.75L487.33 997.25ZM564.72 972.29L577.22 989.79L564.72 1007.29L552.22 989.79ZM629.61 975.27L642.11 992.77L629.61 1010.27L617.11 992.77ZM694.5 983.33L707 1000.83L694.5 1018.33L682 1000.83Z" fill="none" stroke="#000" stroke-width="3.8" stroke-linejoin="miter"/>
<polyline points="110.5,1022.92 175.39,1015.16 240.28,1007.1 305.17,1019.19 370.06,1019.19 434.94,1021.28 499.83,1004.12 564.72,996.65 629.61,997.25 694.5,1006.95" fill="none" stroke="#808080" stroke-width="3.5" stroke-linejoin="miter"/>
<circle cx="110.5" cy="1022.92" r="12.4" fill="none" stroke="#808080" stroke-width="3.6"/>
<circle cx="175.39" cy="1015.16" r="12.4" fill="none" stroke="#808080" stroke-width="3.6"/>
<circle cx="240.28" cy="1007.1" r="12.4" fill="none" stroke="#808080" stroke-width="3.6"/>
<circle cx="305.17" cy="1019.19" r="12.4" fill="none" stroke="#808080" stroke-width="3.6"/>
<circle cx="370.06" cy="1019.19" r="12.4" fill="none" stroke="#808080" stroke-width="3.6"/>
<circle cx="434.94" cy="1021.28" r="12.4" fill="none" stroke="#808080" stroke-width="3.6"/>
<circle cx="499.83" cy="1004.12" r="12.4" fill="none" stroke="#808080" stroke-width="3.6"/>
<circle cx="564.72" cy="996.65" r="12.4" fill="none" stroke="#808080" stroke-width="3.6"/>
<circle cx="629.61" cy="997.25" r="12.4" fill="none" stroke="#808080" stroke-width="3.6"/>
<circle cx="694.5" cy="1006.95" r="12.4" fill="none" stroke="#808080" stroke-width="3.6"/>
<polyline points="110.5,1025.61 175.39,1025.61 240.28,1015.16 305.17,1038.15 370.06,1028.6 434.94,1016.65 499.83,1001.73 564.72,991.28 629.61,997.25 694.5,1010.68" fill="none" stroke="#000" stroke-width="3.6" stroke-linejoin="miter"/>
<path d="M110.5 1008.11L123 1025.61L110.5 1043.11L98 1025.61ZM175.39 1008.11L187.89 1025.61L175.39 1043.11L162.89 1025.61ZM240.28 997.66L252.78 1015.16L240.28 1032.66L227.78 1015.16ZM305.17 1020.65L317.67 1038.15L305.17 1055.65L292.67 1038.15ZM370.06 1011.1L382.56 1028.6L370.06 1046.1L357.56 1028.6ZM434.94 999.15L447.44 1016.65L434.94 1034.15L422.44 1016.65ZM499.83 984.23L512.33 1001.73L499.83 1019.23L487.33 1001.73ZM564.72 973.78L577.22 991.28L564.72 1008.78L552.22 991.28ZM629.61 979.75L642.11 997.25L629.61 1014.75L617.11 997.25ZM694.5 993.18L707 1010.68L694.5 1028.18L682 1010.68Z" fill="none" stroke="#000" stroke-width="3.8" stroke-linejoin="miter"/>
<polyline points="110.5,1030.09 175.39,1019.64 240.28,1015.91 305.17,1025.61 370.06,1019.19 434.94,1021.28 499.83,1004.12 564.72,1024.12 629.61,1000.68 694.5,1012.77" fill="none" stroke="#808080" stroke-width="3.5" stroke-linejoin="miter"/>
<circle cx="110.5" cy="1030.09" r="12.4" fill="none" stroke="#808080" stroke-width="3.6"/>
<circle cx="175.39" cy="1019.64" r="12.4" fill="none" stroke="#808080" stroke-width="3.6"/>
<circle cx="240.28" cy="1015.91" r="12.4" fill="none" stroke="#808080" stroke-width="3.6"/>
<circle cx="305.17" cy="1025.61" r="12.4" fill="none" stroke="#808080" stroke-width="3.6"/>
<circle cx="370.06" cy="1019.19" r="12.4" fill="none" stroke="#808080" stroke-width="3.6"/>
<circle cx="434.94" cy="1021.28" r="12.4" fill="none" stroke="#808080" stroke-width="3.6"/>
<circle cx="499.83" cy="1004.12" r="12.4" fill="none" stroke="#808080" stroke-width="3.6"/>
<circle cx="564.72" cy="1024.12" r="12.4" fill="none" stroke="#808080" stroke-width="3.6"/>
<circle cx="629.61" cy="1000.68" r="12.4" fill="none" stroke="#808080" stroke-width="3.6"/>
<circle cx="694.5" cy="1012.77" r="12.4" fill="none" stroke="#808080" stroke-width="3.6"/>
<polyline points="110.5,1027.1 175.39,1027.1 240.28,1019.64 305.17,1029.79 370.06,1040.99 434.94,1033.07 499.83,1006.21 564.72,986.8 629.61,1001.73 694.5,1020.24" fill="none" stroke="#000" stroke-width="3.6" stroke-linejoin="miter"/>
<path d="M110.5 1009.6L123 1027.1L110.5 1044.6L98 1027.1ZM175.39 1009.6L187.89 1027.1L175.39 1044.6L162.89 1027.1ZM240.28 1002.14L252.78 1019.64L240.28 1037.14L227.78 1019.64ZM305.17 1012.29L317.67 1029.79L305.17 1047.29L292.67 1029.79ZM370.06 1023.49L382.56 1040.99L370.06 1058.49L357.56 1040.99ZM434.94 1015.57L447.44 1033.07L434.94 1050.57L422.44 1033.07ZM499.83 988.71L512.33 1006.21L499.83 1023.71L487.33 1006.21ZM564.72 969.3L577.22 986.8L564.72 1004.3L552.22 986.8ZM629.61 984.23L642.11 1001.73L629.61 1019.23L617.11 1001.73ZM694.5 1002.74L707 1020.24L694.5 1037.74L682 1020.24Z" fill="none" stroke="#000" stroke-width="3.8" stroke-linejoin="miter"/>
<polyline points="110.5,1031.58 175.39,1023.07 240.28,1019.64 305.17,1025.61 370.06,1025.61 434.94,1028.6 499.83,1016.95 564.72,1029.34 629.61,1016.65 694.5,1010.68" fill="none" stroke="#808080" stroke-width="3.5" stroke-linejoin="miter"/>
<circle cx="110.5" cy="1031.58" r="12.4" fill="none" stroke="#808080" stroke-width="3.6"/>
<circle cx="175.39" cy="1023.07" r="12.4" fill="none" stroke="#808080" stroke-width="3.6"/>
<circle cx="240.28" cy="1019.64" r="12.4" fill="none" stroke="#808080" stroke-width="3.6"/>
<circle cx="305.17" cy="1025.61" r="12.4" fill="none" stroke="#808080" stroke-width="3.6"/>
<circle cx="370.06" cy="1025.61" r="12.4" fill="none" stroke="#808080" stroke-width="3.6"/>
<circle cx="434.94" cy="1028.6" r="12.4" fill="none" stroke="#808080" stroke-width="3.6"/>
<circle cx="499.83" cy="1016.95" r="12.4" fill="none" stroke="#808080" stroke-width="3.6"/>
<circle cx="564.72" cy="1029.34" r="12.4" fill="none" stroke="#808080" stroke-width="3.6"/>
<circle cx="629.61" cy="1016.65" r="12.4" fill="none" stroke="#808080" stroke-width="3.6"/>
<circle cx="694.5" cy="1010.68" r="12.4" fill="none" stroke="#808080" stroke-width="3.6"/>
<polyline points="110.5,1028.6 175.39,1028.6 240.28,1010.68 305.17,1027.1 370.06,1031.58 434.94,1012.18 499.83,1006.21 564.72,991.28 629.61,1003.22 694.5,1030.09" fill="none" stroke="#000" stroke-width="3.6" stroke-linejoin="miter"/>
<path d="M110.5 1011.1L123 1028.6L110.5 1046.1L98 1028.6ZM175.39 1011.1L187.89 1028.6L175.39 1046.1L162.89 1028.6ZM240.28 993.18L252.78 1010.68L240.28 1028.18L227.78 1010.68ZM305.17 1009.6L317.67 1027.1L305.17 1044.6L292.67 1027.1ZM370.06 1014.08L382.56 1031.58L370.06 1049.08L357.56 1031.58ZM434.94 994.68L447.44 1012.18L434.94 1029.68L422.44 1012.18ZM499.83 988.71L512.33 1006.21L499.83 1023.71L487.33 1006.21ZM564.72 973.78L577.22 991.28L564.72 1008.78L552.22 991.28ZM629.61 985.72L642.11 1003.22L629.61 1020.72L617.11 1003.22ZM694.5 1012.59L707 1030.09L694.5 1047.59L682 1030.09Z" fill="none" stroke="#000" stroke-width="3.8" stroke-linejoin="miter"/>
<polyline points="110.5,1031.58 175.39,1023.07 240.28,1026.66 305.17,1040.54 370.06,1028.6 434.94,1034.12 499.83,1016.95 564.72,1029.34 629.61,1017.25 694.5,1013.67" fill="none" stroke="#808080" stroke-width="3.5" stroke-linejoin="miter"/>
<circle cx="110.5" cy="1031.58" r="12.4" fill="none" stroke="#808080" stroke-width="3.6"/>
<circle cx="175.39" cy="1023.07" r="12.4" fill="none" stroke="#808080" stroke-width="3.6"/>
<circle cx="240.28" cy="1026.66" r="12.4" fill="none" stroke="#808080" stroke-width="3.6"/>
<circle cx="305.17" cy="1040.54" r="12.4" fill="none" stroke="#808080" stroke-width="3.6"/>
<circle cx="370.06" cy="1028.6" r="12.4" fill="none" stroke="#808080" stroke-width="3.6"/>
<circle cx="434.94" cy="1034.12" r="12.4" fill="none" stroke="#808080" stroke-width="3.6"/>
<circle cx="499.83" cy="1016.95" r="12.4" fill="none" stroke="#808080" stroke-width="3.6"/>
<circle cx="564.72" cy="1029.34" r="12.4" fill="none" stroke="#808080" stroke-width="3.6"/>
<circle cx="629.61" cy="1017.25" r="12.4" fill="none" stroke="#808080" stroke-width="3.6"/>
<circle cx="694.5" cy="1013.67" r="12.4" fill="none" stroke="#808080" stroke-width="3.6"/>
<polyline points="110.5,1030.09 175.39,1030.09 240.28,1022.63 305.17,1049.05 370.06,1023.67 434.94,1027.1 499.83,1004.71 564.72,1033.22 629.61,989.79 694.5,1034.57" fill="none" stroke="#000" stroke-width="3.6" stroke-linejoin="miter"/>
<path d="M110.5 1012.59L123 1030.09L110.5 1047.59L98 1030.09ZM175.39 1012.59L187.89 1030.09L175.39 1047.59L162.89 1030.09ZM240.28 1005.13L252.78 1022.63L240.28 1040.13L227.78 1022.63ZM305.17 1031.55L317.67 1049.05L305.17 1066.55L292.67 1049.05ZM370.06 1006.17L382.56 1023.67L370.06 1041.17L357.56 1023.67ZM434.94 1009.6L447.44 1027.1L434.94 1044.6L422.44 1027.1ZM499.83 987.21L512.33 1004.71L499.83 1022.21L487.33 1004.71ZM564.72 1015.72L577.22 1033.22L564.72 1050.72L552.22 1033.22ZM629.61 972.29L642.11 989.79L629.61 1007.29L617.11 989.79ZM694.5 1017.07L707 1034.57L694.5 1052.07L682 1034.57Z" fill="none" stroke="#000" stroke-width="3.8" stroke-linejoin="miter"/>
<polyline points="110.5,1031.58 175.39,1023.07 240.28,1035.46 305.17,1051.28 370.06,1068.3 434.94,1046.96 499.83,1046.96 564.72,1024.12 629.61,1017.25 694.5,1004.71" fill="none" stroke="#808080" stroke-width="3.5" stroke-linejoin="miter"/>
<circle cx="110.5" cy="1031.58" r="12.4" fill="none" stroke="#808080" stroke-width="3.6"/>
<circle cx="175.39" cy="1023.07" r="12.4" fill="none" stroke="#808080" stroke-width="3.6"/>
<circle cx="240.28" cy="1035.46" r="12.4" fill="none" stroke="#808080" stroke-width="3.6"/>
<circle cx="305.17" cy="1051.28" r="12.4" fill="none" stroke="#808080" stroke-width="3.6"/>
<circle cx="370.06" cy="1068.3" r="12.4" fill="none" stroke="#808080" stroke-width="3.6"/>
<circle cx="434.94" cy="1046.96" r="12.4" fill="none" stroke="#808080" stroke-width="3.6"/>
<circle cx="499.83" cy="1046.96" r="12.4" fill="none" stroke="#808080" stroke-width="3.6"/>
<circle cx="564.72" cy="1024.12" r="12.4" fill="none" stroke="#808080" stroke-width="3.6"/>
<circle cx="629.61" cy="1017.25" r="12.4" fill="none" stroke="#808080" stroke-width="3.6"/>
<circle cx="694.5" cy="1004.71" r="12.4" fill="none" stroke="#808080" stroke-width="3.6"/>
<polyline points="110.5,1031.58 175.39,1029.34 240.28,1042.78 305.17,1056.21 370.06,1051.73 434.94,1033.07 499.83,997.25 564.72,983.82 629.61,998.74 694.5,1027.1" fill="none" stroke="#000" stroke-width="3.6" stroke-linejoin="miter"/>
<path d="M110.5 1014.08L123 1031.58L110.5 1049.08L98 1031.58ZM175.39 1011.84L187.89 1029.34L175.39 1046.84L162.89 1029.34ZM240.28 1025.28L252.78 1042.78L240.28 1060.28L227.78 1042.78ZM305.17 1038.71L317.67 1056.21L305.17 1073.71L292.67 1056.21ZM370.06 1034.23L382.56 1051.73L370.06 1069.23L357.56 1051.73ZM434.94 1015.57L447.44 1033.07L434.94 1050.57L422.44 1033.07ZM499.83 979.75L512.33 997.25L499.83 1014.75L487.33 997.25ZM564.72 966.32L577.22 983.82L564.72 1001.32L552.22 983.82ZM629.61 981.24L642.11 998.74L629.61 1016.24L617.11 998.74ZM694.5 1009.6L707 1027.1L694.5 1044.6L682 1027.1Z" fill="none" stroke="#000" stroke-width="3.8" stroke-linejoin="miter"/>
<polyline points="110.5,1018.45 175.39,1002.03 240.28,992.03 305.17,1003.07 370.06,1003.07 434.94,1003.37 499.83,988.59 564.72,988.59 629.61,983.67 694.5,982.17" fill="none" stroke="#0000ff" stroke-width="12.6" stroke-linejoin="miter"/>
<polyline points="110.5,1019.04 175.39,1008.89 240.28,1000.68 305.17,1009.64 370.06,1005.31 434.94,997.25 499.83,973.37 564.72,968.89 629.61,960.68 694.5,975.61" fill="none" stroke="#ff0000" stroke-width="12.6" stroke-linejoin="miter"/>
<polyline points="880.5,1062.73 945.5,1052.28 1010.5,995.27 1075.5,951.93 1140.5,941.2 1205.5,938.52 1270.5,959.97 1335.5,998.66 1400.5,1015.64 1465.5,1011.08" fill="none" stroke="#808080" stroke-width="12.6" stroke-linejoin="miter"/>
<polyline points="880.5,1061.57 945.5,1043.97 1010.5,998.39 1075.5,959.08 1140.5,959.97 1205.5,970.69 1270.5,980.07 1335.5,919.76 1400.5,841.12 1465.5,710.65" fill="none" stroke="#000000" stroke-width="12.6" stroke-linejoin="miter"/>
<rect x="152.9" y="705.5" width="245.6" height="68.6" fill="#fff" stroke="#262626" stroke-width="4"/>
<circle cx="227.4" cy="724.6" r="12.4" fill="none" stroke="#808080" stroke-width="3.6"/>
<path d="M227.4 736.1L239.9 753.6L227.4 771.1L214.9 753.6Z" fill="none" stroke="#000" stroke-width="3.8"/>
<text x="300" y="732.7" font-size="22.5" fill="#000">RCP 4.5</text>
<text x="300" y="762.6" font-size="22.5" fill="#000">RCP 8.5</text>
<rect x="921.8" y="705.4" width="244.4" height="68.6" fill="#fff" stroke="#262626" stroke-width="4"/>
<path d="M933.8 725.6H1058.5" stroke="#808080" stroke-width="12"/>
<path d="M933.8 754.5H1058.5" stroke="#000" stroke-width="12"/>
<text x="1068" y="732.8" font-size="22.5" fill="#000">RCP 4.5</text>
<text x="1068" y="762.6" font-size="22.5" fill="#000">RCP 8.5</text>
<text x="97" y="497.3" text-anchor="end" font-size="25" fill="#262626">0.5</text>
<text x="97" y="422.65" text-anchor="end" font-size="25" fill="#262626">1</text>
<text x="97" y="348" text-anchor="end" font-size="25" fill="#262626">1.5</text>
<text x="97" y="273.35" text-anchor="end" font-size="25" fill="#262626">2</text>
<text x="97" y="198.7" text-anchor="end" font-size="25" fill="#262626">2.5</text>
<text x="97" y="124.05" text-anchor="end" font-size="25" fill="#262626">3</text>
<text x="97" y="49.4" text-anchor="end" font-size="25" fill="#262626">3.5</text>
<text x="110.1" y="501.7" text-anchor="end" font-size="24" fill="#262626" transform="rotate(-45 110.1 501.7)" dy="8.4">1981<tspan font-size="20" dy="-1.3">&#8211;</tspan><tspan dy="1.3">2010</tspan></text>
<text x="174.99" y="501.7" text-anchor="end" font-size="24" fill="#262626" transform="rotate(-45 174.99 501.7)" dy="8.4">1991<tspan font-size="20" dy="-1.3">&#8211;</tspan><tspan dy="1.3">2020</tspan></text>
<text x="239.88" y="501.7" text-anchor="end" font-size="24" fill="#262626" transform="rotate(-45 239.88 501.7)" dy="8.4">2001<tspan font-size="20" dy="-1.3">&#8211;</tspan><tspan dy="1.3">2030</tspan></text>
<text x="304.77" y="501.7" text-anchor="end" font-size="24" fill="#262626" transform="rotate(-45 304.77 501.7)" dy="8.4">2011<tspan font-size="20" dy="-1.3">&#8211;</tspan><tspan dy="1.3">2040</tspan></text>
<text x="369.66" y="501.7" text-anchor="end" font-size="24" fill="#262626" transform="rotate(-45 369.66 501.7)" dy="8.4">2021<tspan font-size="20" dy="-1.3">&#8211;</tspan><tspan dy="1.3">2050</tspan></text>
<text x="434.54" y="501.7" text-anchor="end" font-size="24" fill="#262626" transform="rotate(-45 434.54 501.7)" dy="8.4">2031<tspan font-size="20" dy="-1.3">&#8211;</tspan><tspan dy="1.3">2060</tspan></text>
<text x="499.43" y="501.7" text-anchor="end" font-size="24" fill="#262626" transform="rotate(-45 499.43 501.7)" dy="8.4">2041<tspan font-size="20" dy="-1.3">&#8211;</tspan><tspan dy="1.3">2070</tspan></text>
<text x="564.32" y="501.7" text-anchor="end" font-size="24" fill="#262626" transform="rotate(-45 564.32 501.7)" dy="8.4">2051<tspan font-size="20" dy="-1.3">&#8211;</tspan><tspan dy="1.3">2080</tspan></text>
<text x="629.21" y="501.7" text-anchor="end" font-size="24" fill="#262626" transform="rotate(-45 629.21 501.7)" dy="8.4">2061<tspan font-size="20" dy="-1.3">&#8211;</tspan><tspan dy="1.3">2090</tspan></text>
<text x="694.1" y="501.7" text-anchor="end" font-size="24" fill="#262626" transform="rotate(-45 694.1 501.7)" dy="8.4">2071<tspan font-size="20" dy="-1.3">&#8211;</tspan><tspan dy="1.3">2100</tspan></text>
<text x="402.5" y="30.8" text-anchor="middle" font-size="25" font-weight="bold" fill="#000">(a)</text>
<path d="M114.2 22.5L125.4 33.2M125.4 22.5L114.2 33.2" stroke="#262626" stroke-width="1.4" fill="none"/>
<text x="130" y="33.8" font-size="25" fill="#262626">10</text>
<text x="158.1" y="22.1" font-size="20" fill="#262626">-3</text>
<text transform="translate(31 278.85) rotate(-90)" font-size="25" fill="#262626">P<tspan dx="2.3" dy="13" font-size="21">L</tspan></text>
<text x="867" y="497.3" text-anchor="end" font-size="25" fill="#262626">0.5</text>
<text x="867" y="422.65" text-anchor="end" font-size="25" fill="#262626">1</text>
<text x="867" y="348" text-anchor="end" font-size="25" fill="#262626">1.5</text>
<text x="867" y="273.35" text-anchor="end" font-size="25" fill="#262626">2</text>
<text x="867" y="198.7" text-anchor="end" font-size="25" fill="#262626">2.5</text>
<text x="867" y="124.05" text-anchor="end" font-size="25" fill="#262626">3</text>
<text x="867" y="49.4" text-anchor="end" font-size="25" fill="#262626">3.5</text>
<text x="880.1" y="501.7" text-anchor="end" font-size="24" fill="#262626" transform="rotate(-45 880.1 501.7)" dy="8.4">1981<tspan font-size="20" dy="-1.3">&#8211;</tspan><tspan dy="1.3">2010</tspan></text>
<text x="945.1" y="501.7" text-anchor="end" font-size="24" fill="#262626" transform="rotate(-45 945.1 501.7)" dy="8.4">1991<tspan font-size="20" dy="-1.3">&#8211;</tspan><tspan dy="1.3">2020</tspan></text>
<text x="1010.1" y="501.7" text-anchor="end" font-size="24" fill="#262626" transform="rotate(-45 1010.1 501.7)" dy="8.4">2001<tspan font-size="20" dy="-1.3">&#8211;</tspan><tspan dy="1.3">2030</tspan></text>
<text x="1075.1" y="501.7" text-anchor="end" font-size="24" fill="#262626" transform="rotate(-45 1075.1 501.7)" dy="8.4">2011<tspan font-size="20" dy="-1.3">&#8211;</tspan><tspan dy="1.3">2040</tspan></text>
<text x="1140.1" y="501.7" text-anchor="end" font-size="24" fill="#262626" transform="rotate(-45 1140.1 501.7)" dy="8.4">2021<tspan font-size="20" dy="-1.3">&#8211;</tspan><tspan dy="1.3">2050</tspan></text>
<text x="1205.1" y="501.7" text-anchor="end" font-size="24" fill="#262626" transform="rotate(-45 1205.1 501.7)" dy="8.4">2031<tspan font-size="20" dy="-1.3">&#8211;</tspan><tspan dy="1.3">2060</tspan></text>
<text x="1270.1" y="501.7" text-anchor="end" font-size="24" fill="#262626" transform="rotate(-45 1270.1 501.7)" dy="8.4">2041<tspan font-size="20" dy="-1.3">&#8211;</tspan><tspan dy="1.3">2070</tspan></text>
<text x="1335.1" y="501.7" text-anchor="end" font-size="24" fill="#262626" transform="rotate(-45 1335.1 501.7)" dy="8.4">2051<tspan font-size="20" dy="-1.3">&#8211;</tspan><tspan dy="1.3">2080</tspan></text>
<text x="1400.1" y="501.7" text-anchor="end" font-size="24" fill="#262626" transform="rotate(-45 1400.1 501.7)" dy="8.4">2061<tspan font-size="20" dy="-1.3">&#8211;</tspan><tspan dy="1.3">2090</tspan></text>
<text x="1465.1" y="501.7" text-anchor="end" font-size="24" fill="#262626" transform="rotate(-45 1465.1 501.7)" dy="8.4">2071<tspan font-size="20" dy="-1.3">&#8211;</tspan><tspan dy="1.3">2100</tspan></text>
<text x="1173" y="30.8" text-anchor="middle" font-size="25" font-weight="bold" fill="#000">(b)</text>
<path d="M884.2 22.5L895.4 33.2M895.4 22.5L884.2 33.2" stroke="#262626" stroke-width="1.4" fill="none"/>
<text x="900" y="33.8" font-size="25" fill="#262626">10</text>
<text x="928.1" y="22.1" font-size="20" fill="#262626">-3</text>
<text transform="translate(801 278.85) rotate(-90)" font-size="25" fill="#262626">P<tspan dx="2.3" dy="13" font-size="21">L</tspan></text>
<text x="97" y="1120.2" text-anchor="end" font-size="25" fill="#262626">0.5</text>
<text x="97" y="1045.57" text-anchor="end" font-size="25" fill="#262626">1</text>
<text x="97" y="970.93" text-anchor="end" font-size="25" fill="#262626">1.5</text>
<text x="97" y="896.3" text-anchor="end" font-size="25" fill="#262626">2</text>
<text x="97" y="821.67" text-anchor="end" font-size="25" fill="#262626">2.5</text>
<text x="97" y="747.03" text-anchor="end" font-size="25" fill="#262626">3</text>
<text x="97" y="672.4" text-anchor="end" font-size="25" fill="#262626">3.5</text>
<text x="110.1" y="1124.6" text-anchor="end" font-size="24" fill="#262626" transform="rotate(-45 110.1 1124.6)" dy="8.4">1981<tspan font-size="20" dy="-1.3">&#8211;</tspan><tspan dy="1.3">2010</tspan></text>
<text x="174.99" y="1124.6" text-anchor="end" font-size="24" fill="#262626" transform="rotate(-45 174.99 1124.6)" dy="8.4">1991<tspan font-size="20" dy="-1.3">&#8211;</tspan><tspan dy="1.3">2020</tspan></text>
<text x="239.88" y="1124.6" text-anchor="end" font-size="24" fill="#262626" transform="rotate(-45 239.88 1124.6)" dy="8.4">2001<tspan font-size="20" dy="-1.3">&#8211;</tspan><tspan dy="1.3">2030</tspan></text>
<text x="304.77" y="1124.6" text-anchor="end" font-size="24" fill="#262626" transform="rotate(-45 304.77 1124.6)" dy="8.4">2011<tspan font-size="20" dy="-1.3">&#8211;</tspan><tspan dy="1.3">2040</tspan></text>
<text x="369.66" y="1124.6" text-anchor="end" font-size="24" fill="#262626" transform="rotate(-45 369.66 1124.6)" dy="8.4">2021<tspan font-size="20" dy="-1.3">&#8211;</tspan><tspan dy="1.3">2050</tspan></text>
<text x="434.54" y="1124.6" text-anchor="end" font-size="24" fill="#262626" transform="rotate(-45 434.54 1124.6)" dy="8.4">2031<tspan font-size="20" dy="-1.3">&#8211;</tspan><tspan dy="1.3">2060</tspan></text>
<text x="499.43" y="1124.6" text-anchor="end" font-size="24" fill="#262626" transform="rotate(-45 499.43 1124.6)" dy="8.4">2041<tspan font-size="20" dy="-1.3">&#8211;</tspan><tspan dy="1.3">2070</tspan></text>
<text x="564.32" y="1124.6" text-anchor="end" font-size="24" fill="#262626" transform="rotate(-45 564.32 1124.6)" dy="8.4">2051<tspan font-size="20" dy="-1.3">&#8211;</tspan><tspan dy="1.3">2080</tspan></text>
<text x="629.21" y="1124.6" text-anchor="end" font-size="24" fill="#262626" transform="rotate(-45 629.21 1124.6)" dy="8.4">2061<tspan font-size="20" dy="-1.3">&#8211;</tspan><tspan dy="1.3">2090</tspan></text>
<text x="694.1" y="1124.6" text-anchor="end" font-size="24" fill="#262626" transform="rotate(-45 694.1 1124.6)" dy="8.4">2071<tspan font-size="20" dy="-1.3">&#8211;</tspan><tspan dy="1.3">2100</tspan></text>
<text x="402.5" y="653.8" text-anchor="middle" font-size="25" font-weight="bold" fill="#000">(c)</text>
<path d="M114.2 645.5L125.4 656.2M125.4 645.5L114.2 656.2" stroke="#262626" stroke-width="1.4" fill="none"/>
<text x="130" y="656.8" font-size="25" fill="#262626">10</text>
<text x="158.1" y="645.1" font-size="20" fill="#262626">-3</text>
<text transform="translate(31 901.8) rotate(-90)" font-size="25" fill="#262626">P<tspan dx="2.3" dy="13" font-size="21">L</tspan></text>
<text x="867" y="1120.2" text-anchor="end" font-size="25" fill="#262626">0</text>
<text x="867" y="1030.84" text-anchor="end" font-size="25" fill="#262626">0.1</text>
<text x="867" y="941.48" text-anchor="end" font-size="25" fill="#262626">0.2</text>
<text x="867" y="852.12" text-anchor="end" font-size="25" fill="#262626">0.3</text>
<text x="867" y="762.76" text-anchor="end" font-size="25" fill="#262626">0.4</text>
<text x="867" y="673.4" text-anchor="end" font-size="25" fill="#262626">0.5</text>
<text x="880.1" y="1124.6" text-anchor="end" font-size="24" fill="#262626" transform="rotate(-45 880.1 1124.6)" dy="8.4">1981<tspan font-size="20" dy="-1.3">&#8211;</tspan><tspan dy="1.3">2010</tspan></text>
<text x="945.1" y="1124.6" text-anchor="end" font-size="24" fill="#262626" transform="rotate(-45 945.1 1124.6)" dy="8.4">1991<tspan font-size="20" dy="-1.3">&#8211;</tspan><tspan dy="1.3">2020</tspan></text>
<text x="1010.1" y="1124.6" text-anchor="end" font-size="24" fill="#262626" transform="rotate(-45 1010.1 1124.6)" dy="8.4">2001<tspan font-size="20" dy="-1.3">&#8211;</tspan><tspan dy="1.3">2030</tspan></text>
<text x="1075.1" y="1124.6" text-anchor="end" font-size="24" fill="#262626" transform="rotate(-45 1075.1 1124.6)" dy="8.4">2011<tspan font-size="20" dy="-1.3">&#8211;</tspan><tspan dy="1.3">2040</tspan></text>
<text x="1140.1" y="1124.6" text-anchor="end" font-size="24" fill="#262626" transform="rotate(-45 1140.1 1124.6)" dy="8.4">2021<tspan font-size="20" dy="-1.3">&#8211;</tspan><tspan dy="1.3">2050</tspan></text>
<text x="1205.1" y="1124.6" text-anchor="end" font-size="24" fill="#262626" transform="rotate(-45 1205.1 1124.6)" dy="8.4">2031<tspan font-size="20" dy="-1.3">&#8211;</tspan><tspan dy="1.3">2060</tspan></text>
<text x="1270.1" y="1124.6" text-anchor="end" font-size="24" fill="#262626" transform="rotate(-45 1270.1 1124.6)" dy="8.4">2041<tspan font-size="20" dy="-1.3">&#8211;</tspan><tspan dy="1.3">2070</tspan></text>
<text x="1335.1" y="1124.6" text-anchor="end" font-size="24" fill="#262626" transform="rotate(-45 1335.1 1124.6)" dy="8.4">2051<tspan font-size="20" dy="-1.3">&#8211;</tspan><tspan dy="1.3">2080</tspan></text>
<text x="1400.1" y="1124.6" text-anchor="end" font-size="24" fill="#262626" transform="rotate(-45 1400.1 1124.6)" dy="8.4">2061<tspan font-size="20" dy="-1.3">&#8211;</tspan><tspan dy="1.3">2090</tspan></text>
<text x="1465.1" y="1124.6" text-anchor="end" font-size="24" fill="#262626" transform="rotate(-45 1465.1 1124.6)" dy="8.4">2071<tspan font-size="20" dy="-1.3">&#8211;</tspan><tspan dy="1.3">2100</tspan></text>
<text x="1173" y="654.8" text-anchor="middle" font-size="25" font-weight="bold" fill="#000">(d)</text>
<text transform="translate(801 902.3) rotate(-90)" font-size="25" fill="#262626">P<tspan dx="2.3" dy="13" font-size="21">L</tspan></text>
</svg></body></html>
